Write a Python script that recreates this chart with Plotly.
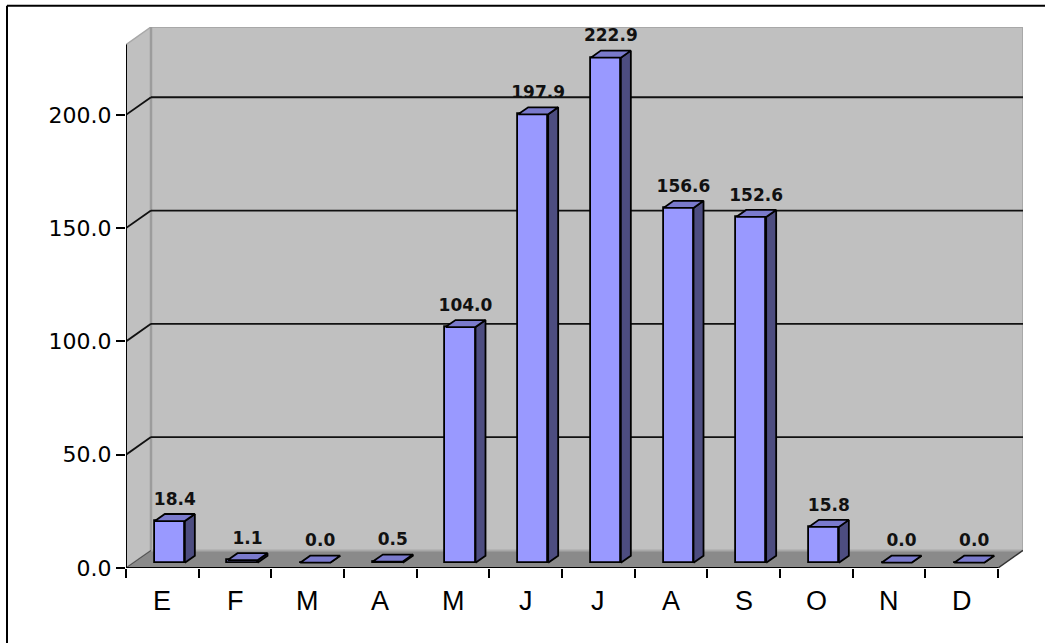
import plotly.graph_objects as go

# ---------------- data ----------------
months = ["E", "F", "M", "A", "M", "J", "J", "A", "S", "O", "N", "D"]
rain = [18.4, 1.1, 0.0, 0.5, 104.0, 197.9, 222.9, 156.6, 152.6, 15.8, 0.0, 0.0]
y_ticks = [0, 50, 100, 150, 200]
y_tick_text = [f"{v:.1f}" for v in y_ticks]

# ---------------- 3D geometry (in axis units) ----------------
AXIS_TOP = 231.0      # top of the value axis
DX, DY = 0.344, 7.77  # depth offset of the back wall
F0, DEPTH = 0.30, 0.40  # bar front position / bar depth (fraction of wall depth)
BAR_W = 0.413

n = len(months)
XMAX = n + DX
YMAX = AXIS_TOP + DY

W, H = 1045, 643
ML, MR, MB = 126, 22, 75
plot_h_px = 568 - 27.2
MT = H - MB - plot_h_px
PX_PER_Y = plot_h_px / YMAX
LABEL_GAP_PX = 5

FRONT = "#9999FF"
TOP = "#7A7ACC"
SIDE = "#4D4D80"
WALL = "#C0C0C0"
FLOOR = "#8A8A8A"

fig = go.Figure()

# front faces (bars)
bar_x = [i + 0.5 + F0 * DX for i in range(n)]
base = F0 * DY
fig.add_trace(go.Bar(
    x=bar_x, y=rain, base=[base] * n, width=BAR_W,
    marker=dict(color=FRONT, line=dict(color="black", width=1.8)),
    hoverinfo="skip", showlegend=False,
))

# side and top faces
sx, sy, tx, ty = [], [], [], []
ddx, ddy = DEPTH * DX, DEPTH * DY
for i, v in enumerate(rain):
    x0 = bar_x[i] - BAR_W / 2
    x1 = bar_x[i] + BAR_W / 2
    y0 = base
    yt = base + v
    sx += [x1, x1 + ddx, x1 + ddx, x1, x1, None]
    sy += [y0, y0 + ddy, yt + ddy, yt, y0, None]
    tx += [x0, x1, x1 + ddx, x0 + ddx, x0, None]
    ty += [yt, yt, yt + ddy, yt + ddy, yt, None]

fig.add_trace(go.Scatter(x=sx, y=sy, mode="lines", fill="toself", fillcolor=SIDE,
                         line=dict(color="black", width=1.8), hoverinfo="skip", showlegend=False))
fig.add_trace(go.Scatter(x=tx, y=ty, mode="lines", fill="toself", fillcolor=TOP,
                         line=dict(color="black", width=1.8), hoverinfo="skip", showlegend=False))

# data labels
lab_x = [b + (DEPTH / 2) * DX for b in bar_x]
lab_y = [base + v + ddy + LABEL_GAP_PX / PX_PER_Y for v in rain]
fig.add_trace(go.Scatter(
    x=lab_x, y=lab_y, mode="text", text=[f"{v:.1f}" for v in rain],
    textposition="top center",
    textfont=dict(family="DejaVu Sans", size=17, color="#111111", weight="bold"),
    hoverinfo="skip", showlegend=False,
))

shapes = []
# floor
shapes.append(dict(type="path", xref="x", yref="y", layer="below",
                   path=f"M 0,0 L {n},0 L {n+DX},{DY} L {DX},{DY} Z",
                   fillcolor=FLOOR, line=dict(width=0)))
# side wall
shapes.append(dict(type="path", xref="x", yref="y", layer="below",
                   path=f"M 0,0 L {DX},{DY} L {DX},{YMAX} L 0,{AXIS_TOP} Z",
                   fillcolor=WALL, line=dict(color="#A8A8A8", width=1.5)))
# back wall
shapes.append(dict(type="rect", xref="x", yref="y", layer="below",
                   x0=DX, x1=XMAX, y0=DY, y1=YMAX,
                   fillcolor=WALL, line=dict(color="#A8A8A8", width=2)))
shapes.append(dict(type="line", xref="x", yref="y", layer="below",
                   x0=DX, x1=DX, y0=DY, y1=YMAX, line=dict(color="#9C9C9C", width=2.5)))
# gridlines
for v in y_ticks[1:]:
    shapes.append(dict(type="line", xref="x", yref="y", layer="below",
                       x0=0, y0=v, x1=DX, y1=v + DY, line=dict(color="#111111", width=1.8)))
    shapes.append(dict(type="line", xref="x", yref="y", layer="below",
                       x0=DX, y0=v + DY, x1=XMAX, y1=v + DY, line=dict(color="#111111", width=1.8)))
# floor edges
shapes.append(dict(type="line", xref="x", yref="y", layer="below",
                   x0=0, y0=0, x1=DX, y1=DY, line=dict(color="#555555", width=1.2)))
shapes.append(dict(type="line", xref="x", yref="y", layer="above",
                   x0=n, y0=0, x1=n + DX, y1=DY, line=dict(color="#333333", width=1.5)))
# axis lines
shapes.append(dict(type="line", xref="x", yref="y", layer="above",
                   x0=0, y0=0, x1=0, y1=AXIS_TOP, line=dict(color="black", width=2)))
shapes.append(dict(type="line", xref="x", yref="y", layer="above",
                   x0=0, y0=0, x1=n, y1=0, line=dict(color="black", width=2.2)))

# outer frame (only left and top edges visible)
plot_w_px = W - ML - MR
def px_to_paper_x(px):
    return (px - ML) / plot_w_px
def px_to_paper_y(py):
    return (H - MB - py) / plot_h_px
shapes.append(dict(type="line", xref="paper", yref="paper", layer="above",
                   x0=px_to_paper_x(7), y0=px_to_paper_y(6), x1=px_to_paper_x(7), y1=px_to_paper_y(660),
                   line=dict(color="black", width=2)))
shapes.append(dict(type="line", xref="paper", yref="paper", layer="above",
                   x0=px_to_paper_x(7), y0=px_to_paper_y(6), x1=px_to_paper_x(1060), y1=px_to_paper_y(6),
                   line=dict(color="black", width=2)))

# month labels
annotations = []
for i, m in enumerate(months):
    annotations.append(dict(x=i + 0.5, y=0, xref="x", yref="y", text=m, showarrow=False,
                            yshift=-33, yanchor="middle",
                            font=dict(family="Liberation Sans, Arial", size=27, color="black")))

fig.update_layout(
    width=W, height=H,
    margin=dict(l=ML, r=MR, t=MT, b=MB, pad=0),
    paper_bgcolor="white", plot_bgcolor="white",
    showlegend=False,
    bargap=0,
    xaxis=dict(range=[0, XMAX], showgrid=False, zeroline=False, showline=False,
               tickmode="array", tickvals=list(range(n + 1)), ticktext=[""] * (n + 1),
               ticks="outside", ticklen=9, tickwidth=2, tickcolor="black", fixedrange=True),
    yaxis=dict(range=[0, YMAX], showgrid=False, zeroline=False, showline=False,
               tickmode="array", tickvals=y_ticks, ticktext=y_tick_text,
               ticks="outside", ticklen=9, tickwidth=2, tickcolor="black",
               tickfont=dict(family="DejaVu Sans", size=22, color="black"), fixedrange=True),
    shapes=shapes,
    annotations=annotations,
)

fig.write_html("out.html")
